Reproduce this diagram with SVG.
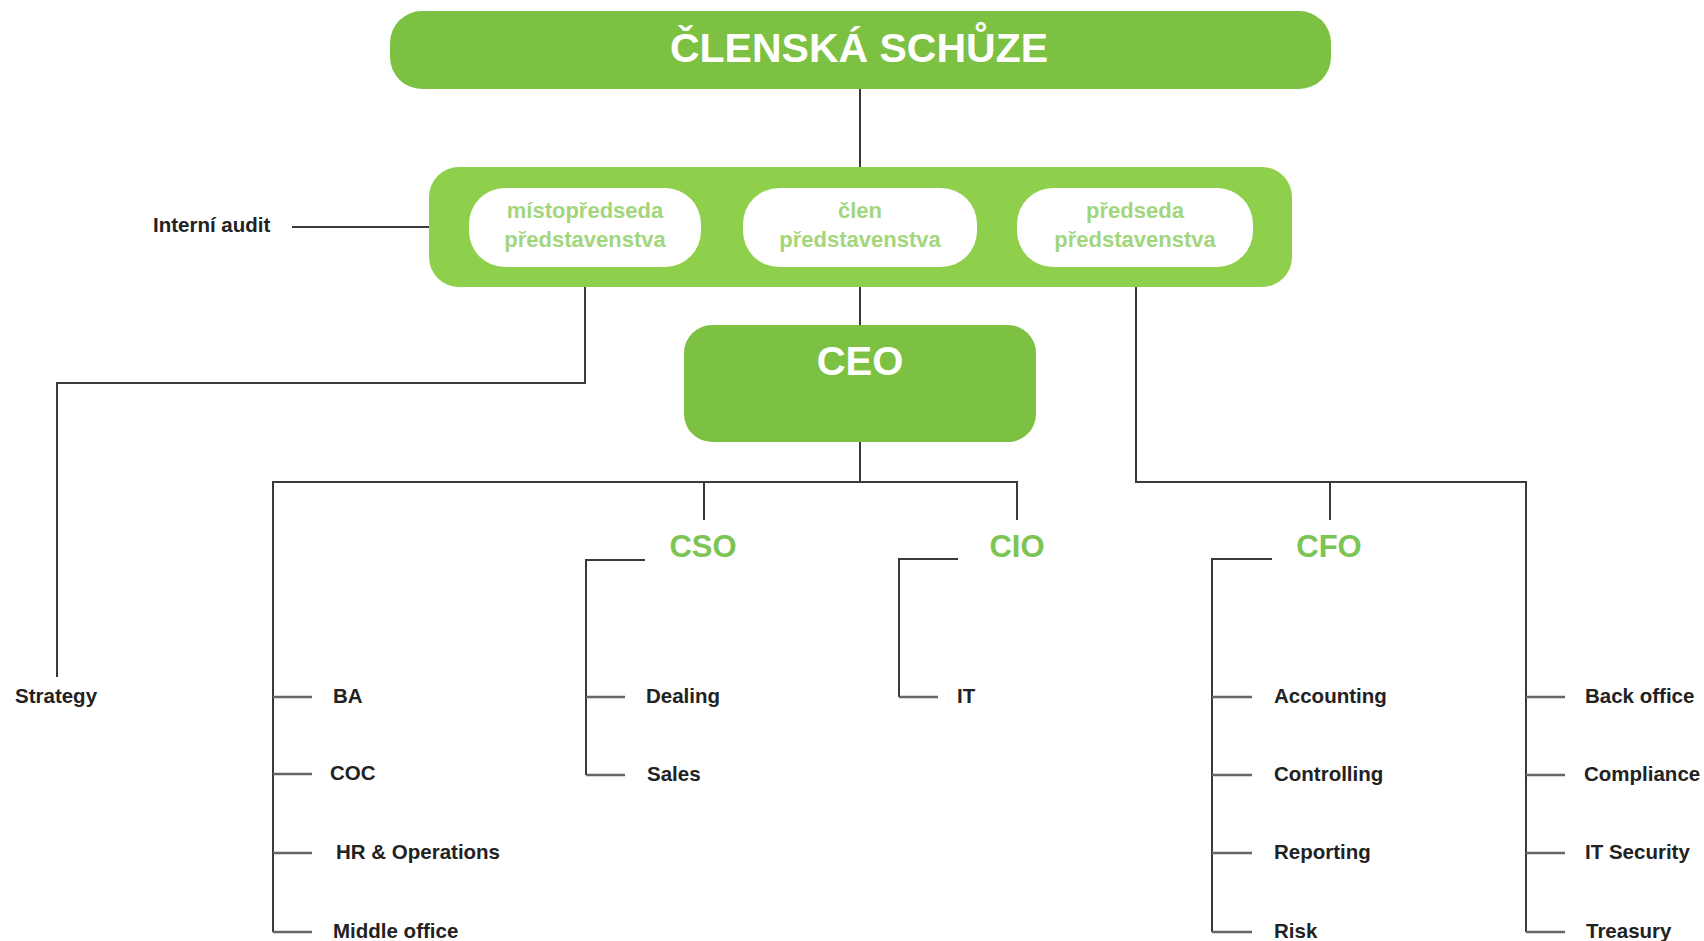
<svg xmlns="http://www.w3.org/2000/svg" width="1704" height="941" viewBox="0 0 1704 941">
<style>
.ln{stroke:#3a3a3a;stroke-width:2;fill:none}
.tk{stroke:#666;stroke-width:2.5;fill:none}
.hd{font-family:"Liberation Sans",Arial,sans-serif;font-weight:bold;fill:#fff;text-anchor:middle}
.bd{font-family:"Liberation Sans",Arial,sans-serif;font-weight:bold;font-size:22px;fill:#a2d67d;text-anchor:middle}
.ex{font-family:"Liberation Sans",Arial,sans-serif;font-weight:bold;font-size:31px;fill:#7cc453;text-anchor:middle}
.lb{font-family:"Liberation Sans",Arial,sans-serif;font-weight:bold;font-size:20.5px;fill:#222}
</style>
<rect width="1704" height="941" fill="#fff"/>
<g id="connectors">
<path class="ln" d="M860 89V167"/>
<path class="ln" d="M860 286V325"/>
<path class="ln" d="M429 227H292"/>
<path class="ln" d="M585 266V383H57V677"/>
<path class="ln" d="M860 442V482"/>
<path class="ln" d="M273 932V482H1017V520"/>
<path class="ln" d="M704 482V520"/>
<path class="ln" d="M1136 266V482H1526V932"/>
<path class="ln" d="M1330 482V520"/>
<path class="ln" d="M645 560H586V775"/>
<path class="ln" d="M958 559H899V697"/>
<path class="ln" d="M1272 559H1212V932"/>
<path class="tk" d="M273 697H312M273 774H312M273 853H312M273 932H312"/>
<path class="tk" d="M586 697H625M586 775H625"/>
<path class="tk" d="M899 697H938"/>
<path class="tk" d="M1212 697H1252M1212 775H1252M1212 853H1252M1212 932H1252"/>
<path class="tk" d="M1526 697H1565M1526 775H1565M1526 853H1565M1526 932H1565"/>
</g>
<g id="clenska-schuze">
<rect x="390" y="11" width="941" height="78" rx="32" fill="#7cc142"/>
<text class="hd" x="859" y="62" font-size="41">ČLENSKÁ SCHŮZE</text>
</g>
<g id="predstavenstvo">
<rect x="429" y="167" width="863" height="120" rx="30" fill="#8ecf4c"/>
</g>
<g id="mistopredseda">
<rect x="469" y="188" width="232" height="79" rx="36" fill="#fff"/>
<text class="bd" x="585" y="218">místopředseda</text>
<text class="bd" x="585" y="247">představenstva</text>
</g>
<g id="clen">
<rect x="743" y="188" width="234" height="79" rx="36" fill="#fff"/>
<text class="bd" x="860" y="218">člen</text>
<text class="bd" x="860" y="247">představenstva</text>
</g>
<g id="predseda">
<rect x="1017" y="188" width="236" height="79" rx="36" fill="#fff"/>
<text class="bd" x="1135" y="218">předseda</text>
<text class="bd" x="1135" y="247">představenstva</text>
</g>
<g id="interni-audit"><text class="lb" x="153" y="232">Interní audit</text></g>
<g id="ceo">
<rect x="684" y="325" width="352" height="117" rx="28" fill="#7cc142"/>
<text class="hd" x="860" y="375" font-size="40">CEO</text>
</g>
<g id="cso"><text class="ex" x="703" y="557">CSO</text></g>
<g id="cio"><text class="ex" x="1017" y="557">CIO</text></g>
<g id="cfo"><text class="ex" x="1329" y="557">CFO</text></g>
<g id="strategy"><text class="lb" x="15" y="703">Strategy</text></g>
<g id="ba"><text class="lb" x="333" y="703">BA</text></g>
<g id="coc"><text class="lb" x="330" y="780">COC</text></g>
<g id="hr"><text class="lb" x="336" y="859">HR &amp; Operations</text></g>
<g id="middle-office"><text class="lb" x="333" y="938">Middle office</text></g>
<g id="dealing"><text class="lb" x="646" y="703">Dealing</text></g>
<g id="sales"><text class="lb" x="647" y="781">Sales</text></g>
<g id="it"><text class="lb" x="957" y="703">IT</text></g>
<g id="accounting"><text class="lb" x="1274" y="703">Accounting</text></g>
<g id="controlling"><text class="lb" x="1274" y="781">Controlling</text></g>
<g id="reporting"><text class="lb" x="1274" y="859">Reporting</text></g>
<g id="risk"><text class="lb" x="1274" y="938">Risk</text></g>
<g id="back-office"><text class="lb" x="1585" y="703">Back office</text></g>
<g id="compliance"><text class="lb" x="1584" y="781">Compliance</text></g>
<g id="it-security"><text class="lb" x="1585" y="859">IT Security</text></g>
<g id="treasury"><text class="lb" x="1586" y="938">Treasury</text></g>
</svg>
